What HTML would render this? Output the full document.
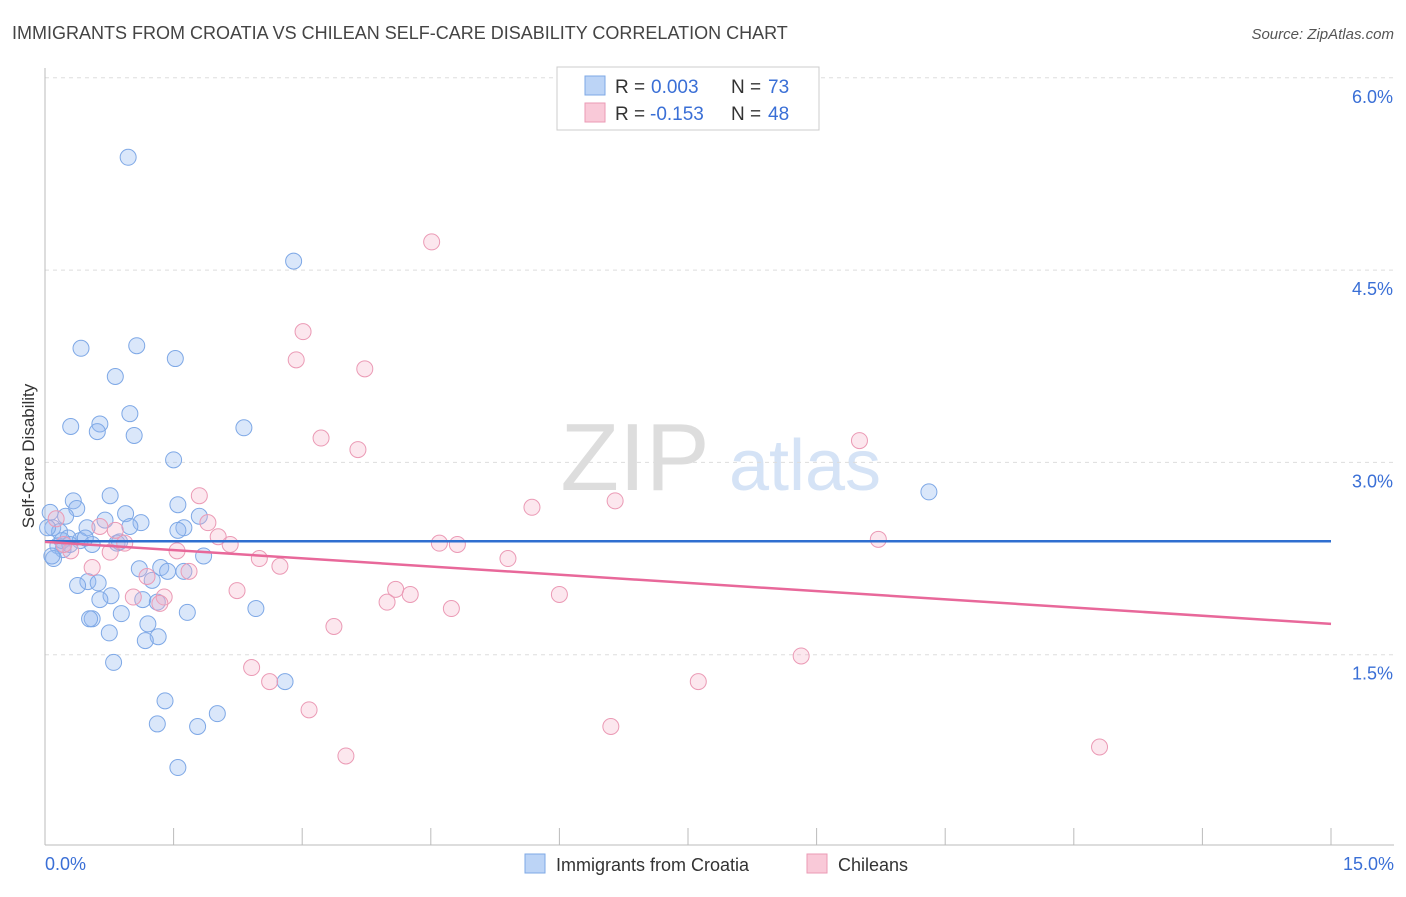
<!DOCTYPE html>
<html><head><meta charset="utf-8"><style>
body{margin:0;background:#fff;font-family:"Liberation Sans",sans-serif;}
svg text{font-family:"Liberation Sans",sans-serif;}
</style></head><body>
<svg id="chart" width="1406" height="892" viewBox="0 0 1406 892" xmlns="http://www.w3.org/2000/svg">
<text x="12" y="39" font-size="18" fill="#444">IMMIGRANTS FROM CROATIA VS CHILEAN SELF-CARE DISABILITY CORRELATION CHART</text>
<text x="1394" y="39" font-size="15" fill="#555" text-anchor="end" font-style="italic">Source: ZipAtlas.com</text>
<g>
<text x="635" y="490" font-size="96" fill="#ddd" text-anchor="middle" font-family="Liberation Serif">ZIP</text>
<text x="805" y="490" font-size="72" fill="#d5e3f6" text-anchor="middle">atlas</text>
</g>
<g id="grid"></g>
<g id="axes"></g>
<g id="pts"></g>
<g id="lines"></g>
<text transform="translate(34,456) rotate(-90)" font-size="17" fill="#333" text-anchor="middle">Self-Care Disability</text>
<g>
<rect x="557" y="67" width="262" height="63" fill="#fff" stroke="#ccc"/>
<rect x="585" y="76" width="20" height="19" fill="#bcd4f6" stroke="#7ea8e6"/>
<text x="615" y="93" font-size="19" fill="#333">R =</text>
<text x="651" y="93" font-size="19" fill="#3a6fd6">0.003</text>
<text x="731" y="93" font-size="19" fill="#333">N =</text>
<text x="768" y="93" font-size="19" fill="#3a6fd6">73</text>
<rect x="585" y="103" width="20" height="19" fill="#f9c9d8" stroke="#eb9ab5"/>
<text x="615" y="120" font-size="19" fill="#333">R =</text>
<text x="650" y="120" font-size="19" fill="#3a6fd6">-0.153</text>
<text x="731" y="120" font-size="19" fill="#333">N =</text>
<text x="768" y="120" font-size="19" fill="#3a6fd6">48</text>
</g>
<g>
<rect x="525" y="854" width="20" height="19" fill="#bcd4f6" stroke="#7ea8e6"/>
<text x="556" y="871" font-size="18" fill="#333">Immigrants from Croatia</text>
<rect x="807" y="854" width="20" height="19" fill="#f9c9d8" stroke="#eb9ab5"/>
<text x="838" y="871" font-size="18" fill="#333">Chileans</text>
</g>
</svg>
<script>
const yTicks=[1.5,3.0,4.5,6.0];
const yTickLabels=["1.5%","3.0%","4.5%","6.0%"];
const xTicks=[0,1.5,3,4.5,6,7.5,9,10.5,12,13.5,15];
const xTickLabels=["0.0%","15.0%"];
const blueX=[0.97,2.90,0.42,1.07,1.52,0.82,0.99,0.30,0.64,0.61,1.04,2.32,1.50,0.76,0.33,0.37,1.55,0.94,0.24,1.12,1.80,0.70,0.99,0.49,1.62,1.55,0.06,0.09,0.17,0.03,0.27,0.41,0.55,0.84,0.15,0.21,0.10,0.08,1.85,1.10,1.35,1.43,1.62,1.25,0.50,0.62,0.38,0.77,0.64,1.14,1.31,0.89,1.66,2.46,0.55,0.52,1.20,0.75,1.32,1.17,0.80,2.80,1.40,1.31,1.78,2.01,1.55,10.31,0.20,0.29,0.47,0.87];
const blueY=[5.38,4.57,3.89,3.91,3.81,3.67,3.38,3.28,3.30,3.24,3.21,3.27,3.02,2.74,2.70,2.64,2.67,2.60,2.58,2.53,2.58,2.55,2.50,2.49,2.49,2.47,2.61,2.49,2.46,2.49,2.41,2.39,2.36,2.37,2.35,2.32,2.25,2.27,2.27,2.17,2.18,2.15,2.15,2.08,2.07,2.06,2.04,1.96,1.93,1.93,1.91,1.82,1.83,1.86,1.78,1.78,1.74,1.67,1.64,1.61,1.44,1.29,1.14,0.96,0.94,1.04,0.62,2.77,2.39,2.36,2.41,2.38];
const pinkX=[4.51,3.01,2.93,3.73,3.22,3.65,9.50,1.80,5.68,6.65,1.90,0.13,0.82,2.02,2.16,4.60,4.81,9.72,0.93,1.54,0.76,0.30,2.50,5.40,2.74,0.55,1.68,1.19,4.09,4.26,2.24,3.99,6.00,4.74,1.03,1.39,1.34,3.37,8.82,2.41,2.62,7.62,3.08,6.60,3.51,12.30,0.22,0.64];
const pinkY=[4.72,4.02,3.80,3.73,3.19,3.10,3.17,2.74,2.65,2.70,2.53,2.56,2.47,2.42,2.36,2.37,2.36,2.40,2.37,2.31,2.30,2.31,2.25,2.25,2.19,2.18,2.15,2.11,2.01,1.97,2.00,1.91,1.97,1.86,1.95,1.95,1.90,1.72,1.49,1.40,1.29,1.29,1.07,0.94,0.71,0.78,2.36,2.50];
const blueTrend=[2.385,2.385];
const pinkTrend=[2.38,1.74];
const NS="http://www.w3.org/2000/svg";
const sx=v=>45+v*(1286/15);
const sy=v=>847-v*128.2;
function mk(t,a,p){const e=document.createElementNS(NS,t);for(const k in a)e.setAttribute(k,a[k]);p.appendChild(e);return e;}
const grid=document.getElementById('grid'),axes=document.getElementById('axes'),pts=document.getElementById('pts'),lines=document.getElementById('lines');
yTicks.forEach((t,i)=>{
 const l=mk('line',{x1:45,x2:1394,y1:sy(t),y2:sy(t),stroke:'#ddd','stroke-dasharray':'4,4'},grid);
 
 
 const tx=mk('text',{x:1393,y:sy(t)+25,'font-size':18,fill:'#3a6fd6','text-anchor':'end'},axes);
 tx.textContent=yTickLabels[i];
 
 
});
mk('line',{x1:45,x2:45,y1:68,y2:845,stroke:'#bbb'},axes);
mk('line',{x1:45,x2:1394,y1:845,y2:845,stroke:'#bbb'},axes);
xTicks.forEach(t=>{
 const l=mk('line',{x1:sx(t),x2:sx(t),y1:828,y2:845,stroke:'#bbb'},axes);
 
 
});
[[0,'start',45],[15,'end',1394]].forEach((d,i)=>{
 const tx=mk('text',{x:d[2],y:870,'font-size':18,fill:'#3a6fd6','text-anchor':d[1]},axes);
 tx.textContent=xTickLabels[i];
 
 
});
blueX.forEach((x,i)=>{
 const c=mk('circle',{cx:sx(x),cy:sy(blueY[i]),r:8,fill:'rgba(150,185,240,0.35)',stroke:'#7ea8e6','stroke-width':1},pts);
 
 
});
pinkX.forEach((x,i)=>{
 const c=mk('circle',{cx:sx(x),cy:sy(pinkY[i]),r:8,fill:'rgba(245,175,200,0.3)',stroke:'#eb9ab5','stroke-width':1},pts);
 
 
});
const bl=mk('line',{x1:sx(0),x2:sx(15),y1:sy(blueTrend[0]),y2:sy(blueTrend[1]),stroke:'#2f6fd0','stroke-width':2.5},lines);


const pl=mk('line',{x1:sx(0),x2:sx(15),y1:sy(pinkTrend[0]),y2:sy(pinkTrend[1]),stroke:'#e8689a','stroke-width':2.5},lines);


</script>
</body></html>
